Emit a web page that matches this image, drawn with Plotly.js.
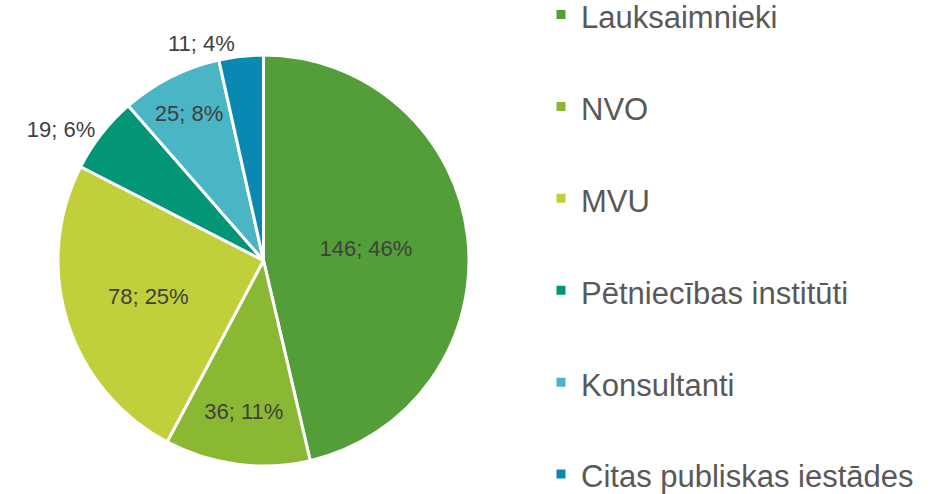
<!DOCTYPE html>
<html><head><meta charset="utf-8">
<script src="https://cdn.plot.ly/plotly-3.0.1.min.js"></script>
<style>html,body{margin:0;padding:0;background:#fff;} #chart{width:945px;height:494px;}</style>
</head><body><div id="chart"></div>
<script>
const categories = ['Lauksaimnieki', 'NVO', 'MVU', 'Pētniecības institūti', 'Konsultanti', 'Citas publiskas iestādes'];
const counts = [146, 36, 78, 19, 25, 11];
const shareLabels = ['46%', '11%', '25%', '6%', '8%', '4%'];
const colors = ['#549E39', '#8AB833', '#C0CF3A', '#029676', '#4AB5C4', '#0989B1'];
const labelPlacement = ['inside', 'inside', 'inside', 'outside', 'inside', 'outside'];

const FONT = '"Liberation Sans", Arial, sans-serif';
const legendTexts = categories.map(c => '<span style="font-size:31px">' + c + '</span><br>\u00a0');

const trace = {
  type: 'pie',
  labels: legendTexts,
  values: counts,
  text: shareLabels,
  texttemplate: '%{value}; %{text}',
  textposition: labelPlacement,
  insidetextorientation: 'horizontal',
  textfont: {family: FONT, size: 22, color: '#404040'},
  insidetextfont: {family: FONT, size: 22, color: '#404040'},
  outsidetextfont: {family: FONT, size: 22, color: '#404040'},
  marker: {colors: colors, line: {color: '#ffffff', width: 3}},
  sort: false,
  direction: 'clockwise',
  rotation: 0,
  hoverinfo: 'none',
  domain: {x: [58/945, 469/945], y: [28/494, 439/494]}
};

const layout = {
  width: 945, height: 494,
  margin: {l: 0, r: 0, t: 0, b: 0, autoexpand: false},
  paper_bgcolor: '#ffffff',
  font: {family: FONT, color: '#595959'},
  showlegend: true,
  legend: {
    x: 541/945, xanchor: 'left',
    y: 0.46, yanchor: 'middle',
    valign: 'top',
    maxheight: 700,
    font: {family: FONT, size: 34.2, color: '#595959'},
    bgcolor: 'rgba(0,0,0,0)'
  }
};

Plotly.newPlot('chart', [trace], layout, {displayModeBar: false, staticPlot: true});
</script>
</body></html>
